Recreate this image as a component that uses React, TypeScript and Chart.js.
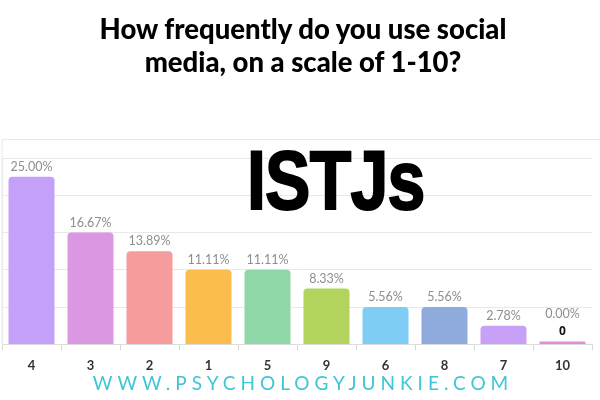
import React, { useEffect, useRef } from "react";
import { Chart, registerables } from "chart.js";

Chart.register(...registerables);

const categories = ["4", "3", "2", "1", "5", "9", "6", "8", "7", "10"];
const respondents = [9, 6, 5, 4, 4, 3, 2, 2, 1, 0];
const percentLabels = ["25.00%", "16.67%", "13.89%", "11.11%", "11.11%", "8.33%", "5.56%", "5.56%", "2.78%", "0.00%"];
const barColors = [
  "#c4a0f8",
  "#dc97e2",
  "#f79c9d",
  "#fbbe4c",
  "#90d7a8",
  "#b2d35c",
  "#7fccf5",
  "#8fabde",
  "#c9a0f7",
  "#e38bd6",
];
const yTickMax = 10;
const yTickStep = 2;

const titleLines = ["How frequently do you use social", "media, on a scale of 1-10?"];
const bigLabel = "ISTJs";
const watermark = "WWW.PSYCHOLOGYJUNKIE.COM";

const labelPlugin = {
  id: "barLabels",
  afterDatasetsDraw(chart: any) {
    const ctx = chart.ctx;
    const meta = chart.getDatasetMeta(0);
    ctx.save();
    ctx.textAlign = "center";
    ctx.textBaseline = "middle";
    meta.data.forEach((bar: any, i: number) => {
      const v = respondents[i];
      let top = bar.y;
      if (v === 0) {
        ctx.fillStyle = "#111";
        ctx.font = "bold 12px 'Open Sans'";
        ctx.fillText(String(v), bar.x, top - 10);
        top -= 17;
      }
      ctx.fillStyle = "#8e8e8e";
      ctx.font = "12.5px Lato";
      ctx.fillText(percentLabels[i], bar.x, top - 10);
    });
    ctx.restore();
  },
  beforeDraw(chart: any) {
    const ctx = chart.ctx;
    const { left, bottom } = chart.chartArea;
    ctx.save();
    ctx.strokeStyle = "#e8e8e8";
    ctx.lineWidth = 1;
    ctx.beginPath();
    ctx.moveTo(left, bottom);
    ctx.lineTo(left, 139.5);
    ctx.lineTo(600, 139.5);
    ctx.stroke();
    ctx.restore();
  },
};

export default function App() {
  const canvasRef = useRef<HTMLCanvasElement | null>(null);

  useEffect(() => {
    if (!canvasRef.current) return;
    const chart = new Chart(canvasRef.current, {
      type: "bar",
      data: {
        labels: categories,
        datasets: [
          {
            data: respondents,
            backgroundColor: barColors,
            borderRadius: 4,
            borderSkipped: "bottom",
            barPercentage: 0.78,
            categoryPercentage: 1,
            minBarLength: 3,
          },
        ],
      },
      options: {
        animation: false,
        responsive: false,
        devicePixelRatio: 1,
        layout: { padding: { left: 2, right: 8, top: 158, bottom: 18 } },
        plugins: {
          legend: { display: false },
          tooltip: { enabled: false },
          title: { display: false },
        },
        scales: {
          x: {
            grid: {
              display: true,
              drawOnChartArea: false,
              tickLength: 6,
              color: "#d8d8d8",
            },
            border: { display: true, color: "#dcdcdc" },
            ticks: {
              color: "#333",
              font: { family: "Lato", size: 13, weight: "bold" },
              padding: 8,
            },
          },
          y: {
            min: 0,
            max: yTickMax,
            ticks: { display: false, stepSize: yTickStep },
            grid: { color: "#e8e8e8", drawTicks: false },
            border: { display: true, color: "#e8e8e8" },
          },
        },
      },
      plugins: [labelPlugin],
    });
    return () => chart.destroy();
  }, []);

  return (
    <div
      style={{
        position: "fixed",
        left: 0,
        top: 0,
        width: 600,
        height: 400,
        background: "#fff",
        overflow: "hidden",
      }}
    >
      <canvas ref={canvasRef} width={600} height={400} style={{ position: "absolute", left: 0, top: 0 }} />
      <div
        style={{
          position: "absolute",
          left: 0,
          top: 12,
          width: 606,
          textAlign: "center",
          fontFamily: "Lato",
          fontWeight: 900,
          fontSize: 27.5,
          lineHeight: "33px",
          color: "#000",
        }}
      >
        {titleLines.map((l) => (
          <div key={l}>{l}</div>
        ))}
      </div>
      <div
        style={{
          position: "absolute",
          left: 247,
          top: 130,
          fontFamily: "Liberation Sans",
          fontWeight: 700,
          fontSize: 84,
          lineHeight: "100px",
          letterSpacing: "-1px",
          color: "#000",
          whiteSpace: "nowrap",
          transform: "scaleX(0.81)",
          transformOrigin: "0 0",
          WebkitTextStroke: "2px #000",
        }}
      >
        {bigLabel}
      </div>
      <div
        style={{
          position: "absolute",
          left: 0,
          top: 372,
          width: 606,
          textAlign: "center",
          fontFamily: "Lato",
          fontWeight: 400,
          fontSize: 19,
          lineHeight: "22px",
          letterSpacing: "5px",
          color: "#3cc6d6",
          whiteSpace: "nowrap",
        }}
      >
        {watermark}
      </div>
    </div>
  );
}
